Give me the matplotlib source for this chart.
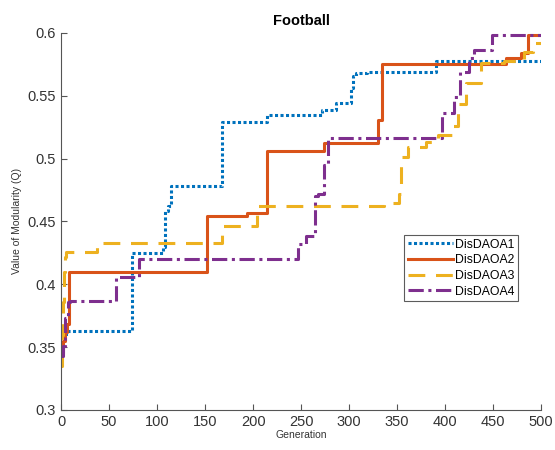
import matplotlib
matplotlib.use("Agg")
import matplotlib.pyplot as plt

plt.rcParams['font.family'] = ['Liberation Sans', 'DejaVu Sans']

# best modularity per generation (step changes only)
dis1_gen = [0, 2, 5, 74, 106, 108, 111, 114, 168, 214, 272, 286, 302, 304, 307, 319, 390, 500]
dis1_q = [0.350, 0.358, 0.363, 0.425, 0.430, 0.458, 0.462, 0.478, 0.529, 0.535, 0.539,
          0.544, 0.556, 0.566, 0.568, 0.569, 0.578, 0.578]

dis2_gen = [0, 2, 4, 6, 8, 152, 194, 215, 274, 330, 334, 463, 479, 486, 500]
dis2_q = [0.345, 0.355, 0.362, 0.368, 0.410, 0.454, 0.457, 0.506, 0.512, 0.531, 0.575,
          0.580, 0.584, 0.598, 0.598]

dis3_gen = [0, 1, 2, 3, 4, 5, 37, 168, 204, 336, 352, 354, 361, 380, 393, 408, 413,
            422, 437, 461, 482, 492, 500]
dis3_q = [0.335, 0.360, 0.386, 0.410, 0.422, 0.426, 0.433, 0.446, 0.462, 0.465, 0.472,
          0.501, 0.509, 0.513, 0.519, 0.526, 0.543, 0.560, 0.576, 0.578, 0.585, 0.592, 0.592]

dis4_gen = [0, 2, 4, 7, 9, 57, 81, 247, 255, 265, 268, 274, 278, 397, 409, 415, 425,
            430, 449, 500]
dis4_q = [0.343, 0.351, 0.373, 0.386, 0.387, 0.406, 0.420, 0.432, 0.4385, 0.470, 0.472,
          0.495, 0.516, 0.536, 0.549, 0.569, 0.580, 0.586, 0.598, 0.598]

labels = ['DisDAOA1', 'DisDAOA2', 'DisDAOA3', 'DisDAOA4']
xticks = list(range(0, 501, 50))
yticks = [0.3, 0.35, 0.4, 0.45, 0.5, 0.55, 0.6]

fig = plt.figure(figsize=(5.55, 4.5), dpi=100)
ax = fig.add_axes([0.110, 0.089, 0.865, 0.838])

ax.plot(dis1_gen, dis1_q, drawstyle='steps-post', color='#0072BD', lw=2.2,
        linestyle=(0, (1, 0.8)), label=labels[0])
ax.plot(dis2_gen, dis2_q, drawstyle='steps-post', color='#D95319', lw=2.2,
        linestyle='-', label=labels[1])
ax.plot(dis3_gen, dis3_q, drawstyle='steps-post', color='#EDB120', lw=2.2,
        linestyle=(0, (5.5, 3.5)), label=labels[2])
ax.plot(dis4_gen, dis4_q, drawstyle='steps-post', color='#7E2F8E', lw=2.2,
        linestyle=(0, (5, 1.5, 1, 1.5)), label=labels[3])

ax.set_xlim(0, 500)
ax.set_ylim(0.3, 0.6)
ax.set_xticks(xticks)
ax.set_yticks(yticks)
ax.set_yticklabels([f'{v:g}' for v in yticks])

for side in ['top', 'right']:
    ax.spines[side].set_visible(False)
for side in ['left', 'bottom']:
    ax.spines[side].set_color('#555555')
    ax.spines[side].set_linewidth(0.8)
ax.tick_params(direction='in', length=4, width=0.8, colors='#555555',
               labelcolor='#333333', labelsize=10.5)

ax.set_title('Football', fontsize=10.5, fontweight='bold', pad=6)
ax.set_xlabel('Generation', fontsize=7.5, color='#333333', labelpad=1)
ax.set_ylabel('Value of Modularity (Q)', fontsize=7.5, color='#333333', labelpad=4)

leg = ax.legend(loc='upper right', bbox_to_anchor=(0.951, 0.464), fontsize=8.8,
                frameon=True, fancybox=False, edgecolor='#333333',
                handlelength=3.7, handletextpad=0.15, borderpad=0.3,
                labelspacing=0.3, borderaxespad=0)
leg.get_frame().set_linewidth(0.8)

fig.savefig('out.png', dpi=100)
